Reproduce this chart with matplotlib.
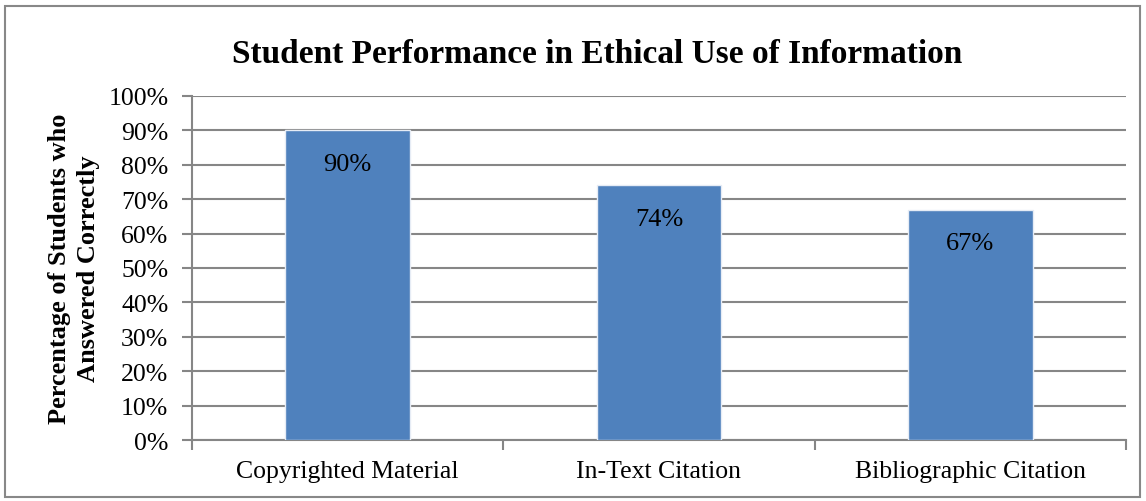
import matplotlib.pyplot as plt
from matplotlib.patches import Rectangle
from matplotlib.ticker import PercentFormatter

# data
categories = ["Copyrighted Material", "In-Text Citation", "Bibliographic Citation"]
percent_correct = [90, 74, 67]
y_ticks = [0, 10, 20, 30, 40, 50, 60, 70, 80, 90, 100]

plt.rcParams['font.family'] = ['Liberation Serif', 'DejaVu Serif']

fig = plt.figure(figsize=(11.46, 5.02), dpi=100)
ax = fig.add_axes([0.1675, 0.1215, 0.815, 0.6853])

grid_col = '#868686'
bar_col = '#4F81BD'

x = range(len(categories))
bars = ax.bar(x, percent_correct, width=0.4, color=bar_col,
              edgecolor='#E6ECF5', linewidth=1.0, zorder=3)

# value labels inside the top of each bar
for xi, v in zip(x, percent_correct):
    ax.text(xi, v - 6.5, f"{v}%", ha='center', va='top', fontsize=19, zorder=4)

ax.set_xlim(-0.5, len(categories) - 0.5)
ax.set_ylim(0, 100)
ax.set_yticks(y_ticks)
ax.yaxis.set_major_formatter(PercentFormatter(decimals=0))
ax.set_xticks(list(x))
ax.set_xticklabels(categories)
# tick marks between categories on the x axis
ax.set_xticks([i - 0.5 for i in range(len(categories) + 1)], minor=True)
ax.tick_params(axis='x', which='major', length=0, pad=14.5, labelsize=18.5)
ax.tick_params(axis='x', which='minor', length=7, color=grid_col, width=1.5)
ax.tick_params(axis='y', length=7, color=grid_col, width=1.5, labelsize=18.5, pad=10)

ax.yaxis.grid(True, color=grid_col, linewidth=1.5, zorder=0)
ax.set_axisbelow(True)
for side in ['top', 'right']:
    ax.spines[side].set_visible(False)
for side in ['left', 'bottom']:
    ax.spines[side].set_color(grid_col)
    ax.spines[side].set_linewidth(1.5)

ax.set_ylabel("Percentage of Students who\nAnswered Correctly",
              fontsize=19, fontweight='bold', labelpad=6, linespacing=1.3)

fig.text(0.521, 0.892, "Student Performance in Ethical Use of Information",
         ha='center', va='center', fontsize=24, fontweight='bold')

# outer chart border
fig.patches.append(Rectangle((0.004, 0.008), 0.991, 0.978, transform=fig.transFigure,
                             fill=False, edgecolor='#888888', linewidth=1.5))

plt.savefig("out.png", dpi=100)
